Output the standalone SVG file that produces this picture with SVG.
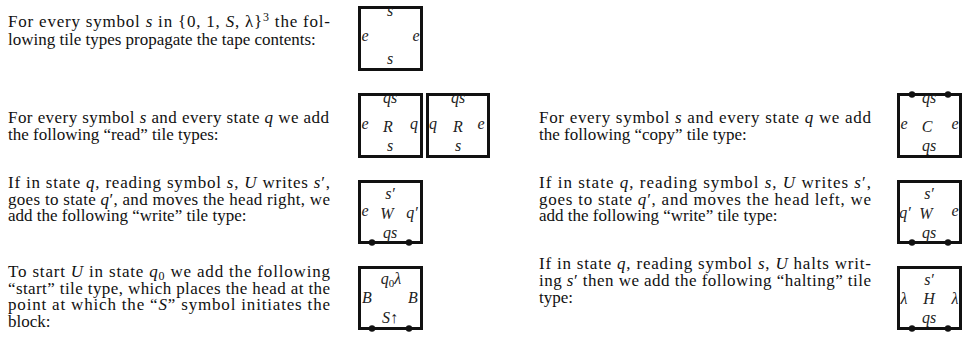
<svg xmlns="http://www.w3.org/2000/svg" width="963" height="337" viewBox="0 0 963 337">
<style>
.t{font-family:"Liberation Serif","Times New Roman",serif;font-size:17px;fill:#111}
.i{font-style:italic}
.box{fill:#fff;stroke:#111;stroke-width:3}
.lb{font-family:"Liberation Serif","Times New Roman",serif;font-size:16px;font-style:italic;fill:#222;text-anchor:middle}
.dot{fill:#111}
</style>
<rect width="963" height="337" fill="#fff"/>

<g id="text-left">
<text class="t" x="8" y="27" textLength="322" lengthAdjust="spacing">For every symbol <tspan class="i">s</tspan> in {0, 1, <tspan class="i">S</tspan>, λ}<tspan dy="-6" font-size="12">3</tspan><tspan dy="6"> the fol-</tspan></text>
<text class="t" x="8" y="45">lowing tile types propagate the tape contents:</text>
<text class="t" x="8" y="123" textLength="321" lengthAdjust="spacing">For every symbol <tspan class="i">s</tspan> and every state <tspan class="i">q</tspan> we add</text>
<text class="t" x="8" y="140">the following “read” tile types:</text>
<text class="t" x="8" y="188" textLength="322" lengthAdjust="spacing">If in state <tspan class="i">q</tspan>, reading symbol <tspan class="i">s</tspan>, <tspan class="i">U</tspan> writes <tspan class="i">s</tspan>′,</text>
<text class="t" x="8" y="204.5" textLength="322" lengthAdjust="spacing">goes to state <tspan class="i">q</tspan>′, and moves the head right, we</text>
<text class="t" x="8" y="221">add the following “write” tile type:</text>
<text class="t" x="8" y="277" textLength="322" lengthAdjust="spacing">To start <tspan class="i">U</tspan> in state <tspan class="i">q</tspan><tspan dy="3" font-size="12">0</tspan><tspan dy="-3"> we add the following</tspan></text>
<text class="t" x="8" y="293.5" textLength="322" lengthAdjust="spacing">“start” tile type, which places the head at the</text>
<text class="t" x="8" y="310" textLength="322" lengthAdjust="spacing">point at which the “<tspan class="i">S</tspan>” symbol initiates the</text>
<text class="t" x="8" y="326.5">block:</text>
</g>

<g id="text-right">
<text class="t" x="539" y="123" textLength="332" lengthAdjust="spacing">For every symbol <tspan class="i">s</tspan> and every state <tspan class="i">q</tspan> we add</text>
<text class="t" x="539" y="140">the following “copy” tile type:</text>
<text class="t" x="539" y="188" textLength="332" lengthAdjust="spacing">If in state <tspan class="i">q</tspan>, reading symbol <tspan class="i">s</tspan>, <tspan class="i">U</tspan> writes <tspan class="i">s</tspan>′,</text>
<text class="t" x="539" y="204.5" textLength="332" lengthAdjust="spacing">goes to state <tspan class="i">q</tspan>′, and moves the head left, we</text>
<text class="t" x="539" y="221">add the following “write” tile type:</text>
<text class="t" x="539" y="269" textLength="332" lengthAdjust="spacing">If in state <tspan class="i">q</tspan>, reading symbol <tspan class="i">s</tspan>, <tspan class="i">U</tspan> halts writ-</text>
<text class="t" x="539" y="286" textLength="332" lengthAdjust="spacing">ing <tspan class="i">s</tspan>′ then we add the following “halting” tile</text>
<text class="t" x="539" y="303">type:</text>
</g>

<g id="tile-propagate">
<rect class="box" x="359.5" y="7.5" width="62" height="62"/>
<text class="lb" x="390" y="16">s</text>
<text class="lb" x="365" y="41">e</text>
<text class="lb" x="416" y="41">e</text>
<text class="lb" x="390" y="64">s</text>
</g>

<g id="tile-read-left">
<rect class="box" x="359.5" y="94.5" width="62" height="62"/>
<text class="lb" x="390" y="103">qs</text>
<text class="lb" x="365" y="129">e</text>
<text class="lb" x="388" y="132">R</text>
<text class="lb" x="414" y="129">q</text>
<text class="lb" x="390" y="151">s</text>
</g>

<g id="tile-read-right">
<rect class="box" x="427.5" y="94.5" width="61" height="62"/>
<text class="lb" x="458" y="103">qs</text>
<text class="lb" x="433" y="129">q</text>
<text class="lb" x="458" y="132">R</text>
<text class="lb" x="481" y="129">e</text>
<text class="lb" x="458" y="151">s</text>
</g>

<g id="tile-write-right">
<rect class="box" x="359.5" y="181.5" width="62" height="61"/>
<text class="lb" x="390" y="199">s′</text>
<text class="lb" x="365" y="216">e</text>
<text class="lb" x="387" y="219">W</text>
<text class="lb" x="412" y="218">q′</text>
<text class="lb" x="390" y="238">qs</text>
<circle class="dot" cx="372" cy="242.5" r="3.2"/>
<circle class="dot" cx="409" cy="242.5" r="3.2"/>
</g>

<g id="tile-start">
<rect class="box" x="359.5" y="267.5" width="62" height="61"/>
<text class="lb" x="391" y="284">q<tspan font-size="11" font-style="normal" dy="3">0</tspan><tspan dy="-3">λ</tspan></text>
<text class="lb" x="367" y="303">B</text>
<text class="lb" x="413" y="303">B</text>
<text class="lb" x="390" y="323">S<tspan font-style="normal">↑</tspan></text>
<circle class="dot" cx="372" cy="328.5" r="3.2"/>
<circle class="dot" cx="409" cy="328.5" r="3.2"/>
</g>

<g id="tile-copy">
<rect class="box" x="898.5" y="94.5" width="62" height="62"/>
<text class="lb" x="929" y="103">qs</text>
<text class="lb" x="904" y="129">e</text>
<text class="lb" x="927" y="132">C</text>
<text class="lb" x="955" y="129">e</text>
<text class="lb" x="929" y="151">qs</text>
<circle class="dot" cx="912" cy="94.5" r="3.2"/>
<circle class="dot" cx="948" cy="94.5" r="3.2"/>
</g>

<g id="tile-write-left">
<rect class="box" x="898.5" y="181.5" width="62" height="61"/>
<text class="lb" x="929" y="199">s′</text>
<text class="lb" x="905" y="218">q′</text>
<text class="lb" x="926" y="219">W</text>
<text class="lb" x="955" y="216">e</text>
<text class="lb" x="929" y="238">qs</text>
<circle class="dot" cx="912" cy="242.5" r="3.2"/>
<circle class="dot" cx="948" cy="242.5" r="3.2"/>
</g>

<g id="tile-halt">
<rect class="box" x="898.5" y="267.5" width="62" height="61"/>
<text class="lb" x="929" y="285">s′</text>
<text class="lb" x="904" y="304">λ</text>
<text class="lb" x="929" y="304">H</text>
<text class="lb" x="955" y="304">λ</text>
<text class="lb" x="929" y="323">qs</text>
<circle class="dot" cx="912" cy="328.5" r="3.2"/>
<circle class="dot" cx="948" cy="328.5" r="3.2"/>
</g>
</svg>
